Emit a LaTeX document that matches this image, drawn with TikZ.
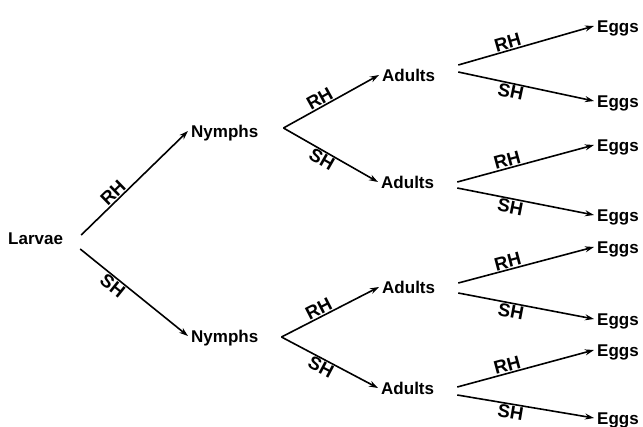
\documentclass[tikz,border=0pt]{standalone}
\usepackage{fontspec}
\setmainfont{Liberation Sans}
\usetikzlibrary{arrows.meta}
\begin{document}
\begin{tikzpicture}[x=1pt,y=-1pt,
  stage/.style={font=\bfseries\fontsize{17}{20}\selectfont, anchor=west, inner xsep=3pt, inner ysep=0pt, text height=13pt, text depth=4pt},
  edge/.style={line width=1.6pt, -{Stealth[length=9pt,width=6pt]}},
  tag/.style={font=\bfseries\fontsize{18.5}{20}\selectfont, sloped, inner sep=1pt}]
\useasboundingbox (0,0) rectangle (643,426);
% nodes
\node[stage] (L) at (5,240) {Larvae};
\node[stage] (N1) at (188,133) {Nymphs};
\node[stage] (N2) at (188,338) {Nymphs};
\node[stage] (A1) at (379,77) {Adults};
\node[stage] (A2) at (378,184) {Adults};
\node[stage] (A3) at (379,289) {Adults};
\node[stage] (A4) at (378,390) {Adults};
\node[stage] (E1) at (594,28) {Eggs};
\node[stage] (E2) at (594,103) {Eggs};
\node[stage] (E3) at (594,147) {Eggs};
\node[stage] (E4) at (594,217) {Eggs};
\node[stage] (E5) at (594,249) {Eggs};
\node[stage] (E6) at (594,321) {Eggs};
\node[stage] (E7) at (594,352) {Eggs};
\node[stage] (E8) at (594,420) {Eggs};
% larvae
\draw[edge] ([shift={(15,-5)}]L.east) -- node[tag,pos=0.35,above]{RH} ([yshift=2pt]N1.west);
\draw[edge] ([shift={(14,9)}]L.east) -- node[tag,pos=0.35,below]{SH} ([yshift=2pt]N2.west);
% nymphs
\draw[edge] ([shift={(22,-5)}]N1.east) -- node[tag,pos=0.42,above]{RH} ([yshift=2pt]A1.west);
\draw[edge] ([shift={(22,-5)}]N1.east) -- node[tag,pos=0.45,below]{SH} ([yshift=2pt]A2.west);
\draw[edge] ([shift={(20,-1)}]N2.east) -- node[tag,pos=0.42,above]{RH} ([yshift=2pt]A3.west);
\draw[edge] ([shift={(20,-1)}]N2.east) -- node[tag,pos=0.45,below]{SH} ([yshift=2pt]A4.west);
% adults
\draw[edge] ([shift={(20,-12)}]A1.east) -- node[tag,pos=0.38,above]{RH} ([yshift=2pt]E1.west);
\draw[edge] ([shift={(20,-5)}]A1.east) -- node[tag,pos=0.4,below]{SH} ([yshift=2pt]E2.west);
\draw[edge] ([shift={(20,-2)}]A2.east) -- node[tag,pos=0.38,above]{RH} ([yshift=2pt]E3.west);
\draw[edge] ([shift={(20,4)}]A2.east) -- node[tag,pos=0.4,below]{SH} ([yshift=2pt]E4.west);
\draw[edge] ([shift={(20,-6)}]A3.east) -- node[tag,pos=0.38,above]{RH} ([yshift=2pt]E5.west);
\draw[edge] ([shift={(20,4)}]A3.east) -- node[tag,pos=0.4,below]{SH} ([yshift=2pt]E6.west);
\draw[edge] ([shift={(20,-3)}]A4.east) -- node[tag,pos=0.38,above]{RH} ([yshift=2pt]E7.west);
\draw[edge] ([shift={(20,5)}]A4.east) -- node[tag,pos=0.4,below]{SH} ([yshift=2pt]E8.west);
\end{tikzpicture}
\end{document}
